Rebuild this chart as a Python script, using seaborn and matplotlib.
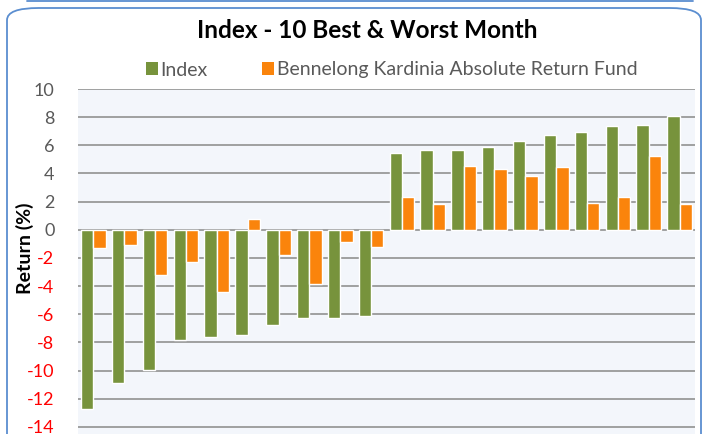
import matplotlib
matplotlib.use("Agg")
import matplotlib.pyplot as plt
from matplotlib.patches import FancyBboxPatch, Rectangle
from matplotlib.lines import Line2D
import seaborn as sns
import pandas as pd

# ---- data ----
months = [f"M{i}" for i in range(1, 21)]
index_returns = [-12.7, -10.85, -9.95, -7.85, -7.6, -7.5, -6.75, -6.25, -6.25, -6.15,
                 5.45, 5.65, 5.65, 5.85, 6.3, 6.7, 6.95, 7.35, 7.45, 8.1]
fund_returns = [-1.3, -1.05, -3.2, -2.25, -4.4, 0.8, -1.8, -3.85, -0.85, -1.2,
                2.35, 1.8, 4.5, 4.3, 3.85, 4.45, 1.9, 2.35, 5.25, 1.8]
series_names = ["Index", "Bennelong Kardinia Absolute Return Fund"]
yticks = [-14, -12, -10, -8, -6, -4, -2, 0, 2, 4, 6, 8, 10]

GREEN = "#77933C"
ORANGE = "#FA840C"

df = pd.DataFrame({
    "Month": months * 2,
    "Return": index_returns + fund_returns,
    "Series": [series_names[0]] * len(months) + [series_names[1]] * len(months),
})

sns.set_theme(style="white")
plt.rcParams["font.family"] = ["Lato", "DejaVu Sans"]

W, H = 702, 434
fig = plt.figure(figsize=(W / 100, H / 100), dpi=100)
fig.patch.set_facecolor("white")

def fx(px):
    return px / W

def fy(py):
    return 1 - py / H

ax_left, ax_right, ax_top, ax_bottom = 78, 695, 89, 434
ax = fig.add_axes([fx(ax_left), fy(ax_bottom), fx(ax_right - ax_left), (ax_bottom - ax_top) / H])
ax.set_facecolor("#F3F6FB")

sns.barplot(data=df, x="Month", y="Return", hue="Series",
            palette=[GREEN, ORANGE], saturation=1, width=0.8, ax=ax,
            errorbar=None, zorder=3)

ax.set_ylim(-14.5, 10)
ax.set_xlim(-0.5, len(months) - 0.5)
ax.set_yticks(yticks)
ax.set_yticklabels([str(t) for t in yticks])
for lbl, t in zip(ax.get_yticklabels(), yticks):
    lbl.set_color("#FF0000" if t < 0 else "#595959")
    lbl.set_fontsize(13)
ax.tick_params(axis="y", length=0, pad=17)
ax.set_xticks([])
ax.set_xlabel("")
ax.set_ylabel("")
for s in ax.spines.values():
    s.set_visible(False)
for t in yticks:
    ax.axhline(t, color="#999999", lw=1.3, zorder=1)

# legend
if ax.get_legend() is not None:
    ax.get_legend().remove()
handles = [Rectangle((0, 0), 1, 1, facecolor=GREEN, edgecolor="none"),
           Rectangle((0, 0), 1, 1, facecolor=ORANGE, edgecolor="none")]
leg = fig.legend(handles, series_names, loc="center left",
                 bbox_to_anchor=(fx(146), fy(70)), ncol=2, frameon=False,
                 handlelength=0.6, handleheight=0.6, handletextpad=0.15,
                 columnspacing=2.8, fontsize=14, borderaxespad=0, borderpad=0)
for txt in leg.get_texts():
    txt.set_color("#595959")

# title
fig.text(fx(367.5), fy(31), "Index - 10 Best & Worst Month", ha="center", va="center",
         fontsize=17.5, fontweight="bold", color="black")

# y label
fig.text(fx(25), fy(248), "Return (%)", rotation=90, ha="center", va="center",
         fontsize=14, fontweight="bold", color="black")

# frame
frame = FancyBboxPatch((fx(7), fy(480)), fx(701 - 7), (480 - 8) / H,
                       boxstyle="round,pad=0,rounding_size=0.045",
                       transform=fig.transFigure, facecolor="none",
                       edgecolor="#5B8ED0", lw=1.3, zorder=0, mutation_aspect=H / W * 1.0)
fig.patches.append(frame)
fig.lines.append(Line2D([fx(27), fx(693)], [fy(0.6), fy(0.6)], transform=fig.transFigure,
                        color="#5B8ED0", lw=1.3))

fig.savefig("out.png", dpi=100)
